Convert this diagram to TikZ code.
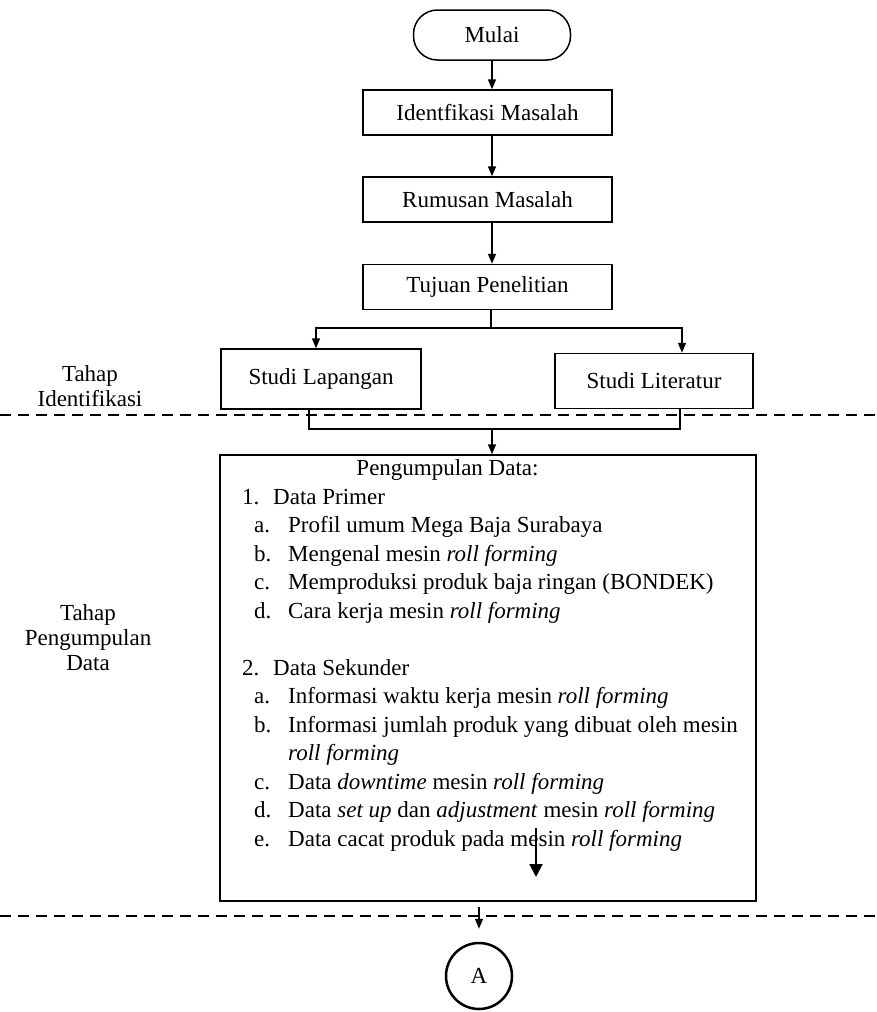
\documentclass[tikz,border=0pt]{standalone}
\usepackage{fontspec}
\setmainfont{Liberation Serif}
\usetikzlibrary{arrows.meta}
\newcommand{\txtsize}{\fontsize{23}{26}\selectfont}
\begin{document}
\begin{tikzpicture}[x=1pt,y=-1pt,
  every node/.style={font=\txtsize, inner sep=0pt},
  box/.style={draw, line width=1.5pt, minimum width=249pt, minimum height=45pt},
  term/.style={draw, line width=1.5pt, rounded corners=24pt, minimum width=157pt, minimum height=50pt},
  conn/.style={line width=1.5pt},
  arr/.style={conn, -{Triangle[length=10pt,width=8pt]}},
  bigarr/.style={line width=2pt, -{Triangle[length=13pt,width=13pt]}},
  sep/.style={line width=1.4pt, dash pattern=on 11pt off 7pt},
  item/.style={anchor=west, text height=16pt, text depth=5pt},
  stage/.style={align=center, font=\fontsize{23}{25}\selectfont}]
\useasboundingbox (0,0) rectangle (877,1012);

% flow from start to the two studies
\node[term] (mulai) at (492,35) {Mulai};
\node[box] (ident) at (487.5,112.5) {Identfikasi Masalah};
\node[box] (rumus) at (487.5,199.5) {Rumusan Masalah};
\node[box] (tujuan) at (487.5,287) {Tujuan Penelitian};
\node[draw, line width=1.5pt, minimum width=200pt, minimum height=60pt] (lap) at (321,379) {Studi Lapangan};
\node[draw, line width=1.5pt, minimum width=198pt, minimum height=55pt] (lit) at (654,381) {Studi Literatur};

\draw[arr] (mulai.south) -- (mulai.south |- ident.north);
\draw[arr] (ident.south -| mulai.south) -- (rumus.north -| mulai.south);
\draw[arr] (rumus.south -| mulai.south) -- (tujuan.north -| mulai.south);

\coordinate (split) at (491,328);
\draw[conn] (tujuan.south -| split) -- (split);
\draw[arr] (split) -| ([xshift=-5pt]lap.north);
\draw[arr] (split) -| ([xshift=28pt]lit.north);

% stage separators
\draw[sep] (0,415) coordinate (sepA) -- (877,415) coordinate (sepB);
\draw[sep] (0,916) coordinate (sepC) -- (877,916) coordinate (sepD);

\node[stage] (stage1) at (90,386) {Tahap\\Identifikasi};
\node[stage] (stage2) at (88,638) {Tahap\\Pengumpulan\\Data};

% data collection block
\node[draw, line width=1.5pt, minimum width=536pt, minimum height=446pt] (data) at (488,678) {};

\coordinate (merge) at (492,429);
\draw[conn] ([xshift=-12pt]lap.south) |- ([xshift=26pt]lit.south |- merge) -- ([xshift=26pt]lit.south);
\draw[arr] (merge) -- (merge |- data.north);

\node (t0) at (447.5,470) {Pengumpulan Data:};
\node[item] (n1) at (242,498.5) {1.};
\node[item] (t1) at (273,498.5) {Data Primer};
\node[item] (l2) at (254,527) {a.};
\node[item] (t2) at (288,527) {Profil umum Mega Baja Surabaya};
\node[item] (l3) at (254,555.5) {b.};
\node[item] (t3) at (288,555.5) {Mengenal mesin \textit{roll forming}};
\node[item] (l4) at (254,584) {c.};
\node[item] (t4) at (288,584) {Memproduksi produk baja ringan (BONDEK)};
\node[item] (l5) at (254,612.5) {d.};
\node[item] (t5) at (288,612.5) {Cara kerja mesin \textit{roll forming}};
\node[item] (n7) at (242,669.5) {2.};
\node[item] (t7) at (273,669.5) {Data Sekunder};
\node[item] (l8) at (254,698) {a.};
\node[item] (t8) at (288,698) {Informasi waktu kerja mesin \textit{roll forming}};
\node[item] (l9) at (254,726.5) {b.};
\node[item] (t9) at (288,726.5) {Informasi jumlah produk yang dibuat oleh mesin};
\node[item] (t10) at (288,755) {\textit{roll forming}};
\node[item] (l11) at (254,783.5) {c.};
\node[item] (t11) at (288,783.5) {Data \textit{downtime} mesin \textit{roll forming}};
\node[item] (l12) at (254,812) {d.};
\node[item] (t12) at (288,812) {Data \textit{set up} dan \textit{adjustment} mesin \textit{roll forming}};
\node[item] (l13) at (254,840.5) {e.};
\node[item] (t13) at (288,840.5) {Data cacat produk pada mesin \textit{roll forming}};

\coordinate (inA) at (536,828);
\coordinate (inB) at (536,877);
\draw[bigarr] (inA) -- (inB);

% connector to the off-page mark
\node[draw, circle, line width=2.5pt, minimum size=66pt] (A) at (479,976) {A};
\coordinate (toA) at (479,907);
\draw[arr] (toA) -- ([yshift=13pt]A.north);
\end{tikzpicture}
\end{document}
